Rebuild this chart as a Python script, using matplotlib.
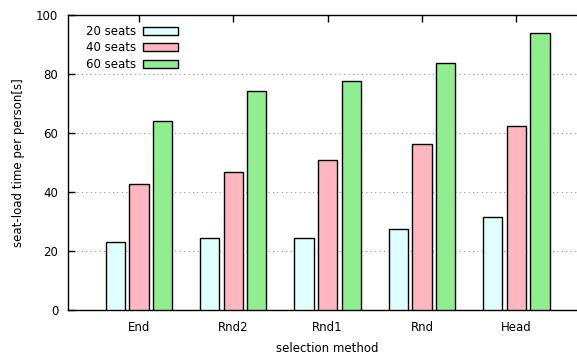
import matplotlib
matplotlib.use("Agg")
import matplotlib.pyplot as plt
import numpy as np

# data
methods = ["End", "Rnd2", "Rnd1", "Rnd", "Head"]
seats20 = [23.0, 24.3, 24.5, 27.3, 31.5]
seats40 = [42.6, 46.8, 50.8, 56.3, 62.3]
seats60 = [64.1, 74.1, 77.5, 83.8, 93.8]
labels = ["20 seats", "40 seats", "60 seats"]
colors = ["#e0ffff", "#ffb6c1", "#90ee90"]

plt.rcParams["font.family"] = ["DejaVu Sans"]
plt.rcParams["font.size"] = 8.5

fig = plt.figure(figsize=(5.77, 3.58), dpi=100)
# right edge of the plot is cut off in the original
ax = fig.add_axes([0.118, 0.134, 0.8995, 0.824])

x = np.arange(1, len(methods) + 1)
w = 0.205
step = 0.25
for i, (vals, lab, c) in enumerate(zip([seats20, seats40, seats60], labels, colors)):
    ax.bar(x + (i - 1) * step, vals, width=w, color=c, edgecolor="black",
           linewidth=1.0, label=lab, zorder=3)

ax.set_xlim(0.25, 5.75)
ax.set_ylim(0, 100)
ax.set_yticks([0, 20, 40, 60, 80, 100])
ax.set_xticks(x)
ax.set_xticklabels(methods)
ax.yaxis.grid(True, linestyle=(0, (1, 3)), color="#999999", linewidth=0.8, zorder=0)
ax.tick_params(axis="both", direction="in", length=5, top=True, right=False, width=1)
ax.tick_params(axis="x", pad=8)
ax.tick_params(axis="y", pad=7)
for s in ["left", "top", "bottom"]:
    ax.spines[s].set_linewidth(1.0)
ax.spines["right"].set_visible(False)

ax.set_xlabel("selection method", labelpad=6)
ax.set_ylabel("seat-load time per person[s]", labelpad=8)

ax.legend(loc="upper left", frameon=False, markerfirst=False, handlelength=3.0,
          handleheight=0.7, labelspacing=0.3, handletextpad=0.6,
          bbox_to_anchor=(0.018, 0.995), borderaxespad=0.3)

fig.savefig("out.png", dpi=100)
